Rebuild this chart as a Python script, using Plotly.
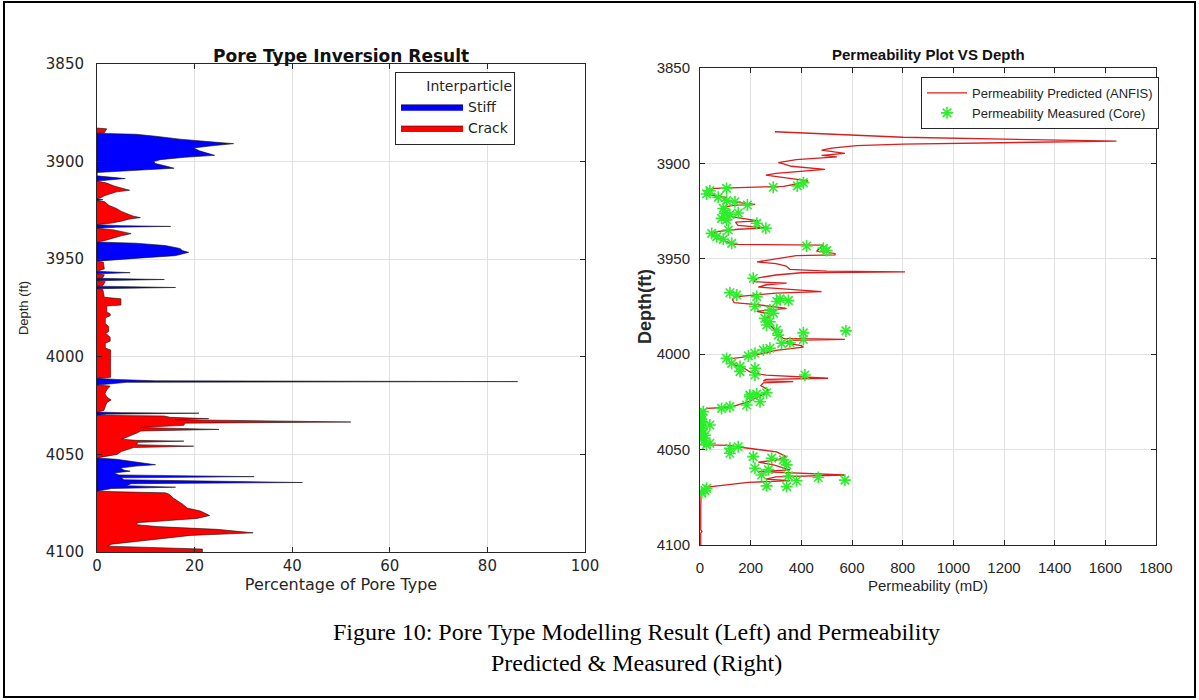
import plotly.graph_objects as go

W, H = 1199, 700

# ---------------- Left panel data (Pore type inversion) ----------------
stiff_depth = [3885.5, 3886.0, 3887.0, 3888.5, 3890.0, 3890.8, 3891.8, 3893.0, 3894.5, 3896.0,
               3896.8, 3897.8, 3899.0, 3900.0, 3901.0, 3902.5, 3903.4, 3904.2, 3905.0, 3905.6,
               3907.3, 3908.0, 3908.7, 3909.3, 3910.0, 3919.0, 3919.5, 3920.0,
               3932.3, 3932.8, 3933.2, 3933.6, 3934.2,
               3941.2, 3941.8, 3943.0, 3944.5, 3945.6, 3946.5, 3947.3, 3948.2, 3949.2, 3950.3, 3951.0,
               3956.2, 3956.9, 3957.5, 3959.8, 3960.4, 3961.0, 3963.8, 3964.5, 3965.1,
               4011.0, 4011.6, 4012.3, 4012.7, 4013.1, 4013.8, 4014.5,
               4028.3, 4028.6, 4028.9, 4029.4, 4030.0,
               4051.8, 4052.5, 4053.5, 4054.5, 4055.3, 4056.0, 4057.0, 4058.0, 4058.6, 4059.5,
               4060.5, 4061.4, 4062.0, 4063.0, 4064.4, 4065.0, 4066.0, 4066.8, 4067.5, 4068.9]
stiff_pct = [0, 8, 12, 17, 24, 28, 24, 19.8, 21, 23,
             24.1, 18, 13, 11.6, 12, 14.5, 15.8, 10, 4, 0,
             0, 3, 5.8, 3, 0, 0, 1.2, 0,
             0, 5, 15.1, 4, 0,
             0, 8, 14, 17, 17.5, 18.8, 17.5, 16, 10, 3, 0,
             0, 6.8, 0, 0, 13.8, 0, 0, 16.1, 0,
             0, 4, 12, 86.2, 6, 3, 0,
             0, 5, 20.9, 2, 0,
             0, 4, 7, 10.5, 12.0, 8, 4.8, 5.5, 6.8, 3.5,
             4.5, 32.2, 5, 5.5, 42.1, 7, 6, 16.1, 3, 0]

crack_depth = [3882.8, 3883.2, 3885.2, 3885.5,
               3910.0, 3911.0, 3912.5, 3913.5, 3914.7, 3915.5, 3916.5, 3917.5, 3918.5, 3919.0,
               3920.0, 3920.5, 3922.5, 3924.0, 3925.5, 3927.0, 3928.0, 3928.7, 3929.5, 3930.5, 3931.5, 3932.3,
               3934.2, 3935.0, 3936.0, 3936.9, 3938.0, 3939.5, 3940.5, 3941.2,
               3951.0, 3951.5, 3953.0, 3955.0, 3956.2, 3957.5, 3958.0, 3959.5, 3959.8,
               3961.0, 3961.5, 3963.5, 3963.8, 3965.1, 3965.5, 3968.0, 3969.5, 3970.3, 3973.5, 3974.0,
               3977.0, 3978.0, 3979.0, 3980.0, 3983.0, 3984.5, 3987.0, 3988.0, 3990.0, 3992.0, 3993.0,
               3995.5, 3996.5, 4010.5, 4011.0,
               4014.5, 4015.0, 4017.0, 4019.0, 4021.0, 4022.1, 4023.5, 4026.0, 4027.5, 4028.3,
               4030.0, 4030.3, 4031.0, 4031.7, 4032.2, 4033.4, 4034.0, 4035.1, 4036.2, 4037.2, 4038.0,
               4039.0, 4040.5, 4042.2, 4042.8, 4043.2, 4043.8, 4045.0, 4045.8, 4046.5, 4048.5, 4050.0, 4051.8,
               4068.9, 4069.7, 4070.3, 4072.5, 4075.4, 4077.5, 4079.0, 4081.3, 4082.8, 4084.0, 4085.0,
               4086.0, 4087.0, 4088.4, 4089.5, 4090.2, 4091.5, 4093.5, 4096.0, 4097.0, 4097.8, 4098.5, 4100.0]
crack_pct = [0, 2.0, 1.5, 0,
             0, 2, 3.5, 5, 6.7, 4, 2.5, 1.5, 0.8, 0,
             0, 1.5, 2.5, 4, 5, 6.5, 7.5, 8.9, 6.5, 5, 3, 0,
             0, 3.5, 5.5, 7.0, 5, 3, 1.5, 0,
             0, 1.3, 1.4, 1.5, 0, 0, 1.5, 1.2, 0,
             0, 1.7, 1.2, 0, 0, 1.2, 1.3, 1.5, 4.9, 4.9, 2.0,
             2.0, 2.7, 2.7, 1.7, 1.7, 2.4, 2.4, 1.8, 2.7, 2.7, 1.7,
             1.7, 2.8, 2.8, 0,
             0, 2.7, 2.0, 1.6, 2.2, 2.9, 2.0, 1.6, 1.4, 0,
             0, 13.7, 15.0, 22.9, 16, 52.0, 18, 17.8, 8.9, 25.0, 9,
             8.2, 6.8, 5.1, 8, 17.8, 8.5, 8, 19.8, 7.5, 5, 4.1, 0,
             0, 14.0, 14.7, 15.7, 17.5, 18.5, 21.2, 23.1, 20.5, 14, 8.2,
             8.2, 12.3, 24.6, 29.1, 32.0, 19.2, 12, 3, 2.2, 12, 21.6, 21.6]

# ---------------- Right panel data (Permeability) ----------------
pred_depth = [3883.4, 3884.2, 3886.3, 3888.3, 3889.9, 3890.7, 3892.0, 3893.0, 3894.7, 3895.8,
              3896.6, 3898.0, 3899.6, 3900.3, 3901.5, 3903.1, 3904.0, 3905.2, 3906.1, 3907.3,
              3907.8, 3908.5, 3909.2, 3909.8, 3910.8, 3912.0, 3912.5, 3913.1, 3914.0, 3915.7,
              3917.0, 3917.8, 3918.5, 3920.0, 3921.5, 3922.0, 3923.0, 3926.1, 3928.0, 3930.1,
              3930.8, 3932.5, 3933.8, 3934.5, 3935.8, 3937.0, 3939.0, 3940.5, 3942.4, 3942.8,
              3944.5, 3946.0, 3947.2, 3948.0, 3948.3, 3951.3, 3951.6, 3952.5, 3953.8, 3955.5,
              3956.5, 3956.9, 3957.3, 3958.5, 3960.0, 3962.0, 3962.8, 3963.6, 3964.8, 3967.2,
              3968.0, 3969.9, 3971.5, 3973.0, 3974.0, 3976.0, 3977.5, 3978.0, 3979.0, 3980.5,
              3982.0, 3984.0, 3986.5, 3989.0, 3991.7, 3992.2, 3992.8, 3994.0, 3995.5, 3996.3,
              3998.0, 3999.5, 4001.5, 4002.5, 4005.0, 4007.0, 4009.5, 4011.0, 4012.6, 4013.2,
              4014.0, 4014.4, 4015.0, 4016.5, 4018.8, 4021.0, 4023.0, 4024.9, 4026.5, 4027.8,
              4028.4, 4030.0, 4033.0, 4037.0, 4040.0, 4044.0, 4046.0, 4047.5, 4047.8, 4048.5,
              4051.2, 4053.8, 4055.5, 4056.6, 4058.0, 4060.6, 4061.5, 4063.3, 4064.3, 4065.5,
              4066.3, 4067.2, 4068.5, 4069.8, 4072.0, 4080.0, 4092.0, 4093.0, 4093.8, 4100.0]
pred_perm = [296, 420, 802, 1644, 802, 618, 520, 480, 572, 480,
             540, 380, 309, 330, 360, 493, 420, 300, 260, 330,
             355, 390, 427, 410, 380, 330, 200, 59, 30, 20,
             60, 105, 90, 120, 217, 130, 95, 92, 130, 230,
             140, 150, 270, 150, 66, 40, 70, 100, 131, 486,
             470, 460, 533, 533, 380, 240, 225, 300, 340, 355,
             500, 809, 400, 300, 230, 210, 342, 263, 230, 480,
             300, 138, 128, 135, 224, 342, 224, 237, 290, 270,
             250, 270, 290, 300, 329, 572, 360, 330, 400, 408,
             300, 250, 170, 112, 120, 170, 200, 260, 506, 260,
             250, 368, 250, 240, 270, 250, 220, 191, 150, 120,
             26, 10, 5, 15, 8, 10, 12, 20, 118, 145,
             302, 342, 300, 230, 290, 355, 230, 572, 300, 260,
             355, 190, 100, 20, 5, 3, 3, 8, 3, 3]

core_depth = [3910.1, 3911.8, 3912.5, 3913.1, 3914.3, 3916.0, 3917.8, 3919.5, 3920.1, 3921.8,
              3923.6, 3926.2, 3926.8, 3926.0, 3928.8, 3929.6, 3931.4, 3934.0, 3934.9, 3936.7,
              3938.4, 3939.8, 3941.9, 3943.3, 3944.5, 3945.7,
              3960.2, 3967.8, 3969.0, 3969.8, 3975.0, 3972.4, 3971.9, 3971.0, 3976.8, 3978.5,
              3981.2, 3983.0, 3984.7, 3987.3, 3990.0, 3994.3, 3994.0, 3988.8, 3992.3, 3987.8,
              3996.9, 3997.8, 3999.5, 4000.9, 4002.2, 4004.8, 4006.5, 4009.1, 4007.4, 4010.9,
              4010.9, 4022.3, 4020.9, 4020.2,
              4021.4, 4024.9, 4026.6, 4027.5, 4028.4, 4030.1, 4031.5, 4032.7, 4034.0, 4035.3,
              4036.0, 4037.1, 4038.8, 4040.0, 4041.4, 4042.5, 4044.0, 4045.5, 4046.7, 4047.5,
              4049.3, 4048.5, 4051.9, 4053.7, 4054.5, 4055.4, 4058.0, 4059.8, 4060.5, 4063.3,
              4063.8, 4066.3, 4064.6, 4066.0, 4069.4, 4069.0, 4070.3, 4072.8, 4071.5]
core_perm = [408, 384, 289, 105, 39, 26, 72, 105, 138, 187,
             92, 98, 118, 151, 85, 105, 224, 260, 112, 46,
             66, 92, 125, 421, 487, 500,
             210, 118, 145, 224, 217, 303, 349, 316, 276, 290,
             256, 276, 263, 303, 309, 322, 355, 408, 408, 576,
             276, 250, 217, 191, 105, 125, 158, 158, 217, 217,
             414, 197, 224, 263,
             197, 237, 184, 118, 85, 13, 5, 0, 3, 7,
             10, 39, 7, 5, 13, 20, 7, 15, 39, 25,
             118, 151, 118, 210, 283, 329, 342, 217, 270, 243,
             349, 381, 467, 572, 342, 263, 26, 7, 20]

x_ticks_left = [0, 20, 40, 60, 80, 100]
y_ticks = [3850, 3900, 3950, 4000, 4050, 4100]
x_ticks_right = [0, 200, 400, 600, 800, 1000, 1200, 1400, 1600, 1800]

LEFT_FONT = "DejaVu Sans"
RIGHT_FONT = "Liberation Sans"
AXC = "#262626"
GRID = "#e2e2e2"
STAR = "#2cee2c"

fig = go.Figure()

fig.add_trace(go.Scatter(x=stiff_pct, y=stiff_depth, mode="lines", fill="tozerox",
                         fillcolor="#0000ff", line=dict(color="#101010", width=0.6),
                         name="Stiff", xaxis="x", yaxis="y", legend="legend"))
fig.add_trace(go.Scatter(x=crack_pct, y=crack_depth, mode="lines", fill="tozerox",
                         fillcolor="#ff0000", line=dict(color="#101010", width=0.6),
                         name="Crack", xaxis="x", yaxis="y", legend="legend"))

fig.add_trace(go.Scatter(x=pred_perm, y=pred_depth, mode="lines",
                         line=dict(color="#d81e1e", width=1.3),
                         name="Permeability Predicted (ANFIS)", xaxis="x2", yaxis="y2",
                         legend="legend2"))
fig.add_trace(go.Scatter(x=core_perm, y=core_depth, mode="markers",
                         marker=dict(symbol="asterisk-open", size=10, color=STAR,
                                     line=dict(color=STAR, width=1.6)),
                         name="Permeability Measured (Core)", xaxis="x2", yaxis="y2",
                         legend="legend2"))

common_axis = dict(showline=True, linecolor=AXC, linewidth=1, mirror="ticks",
                   ticks="inside", ticklen=5, tickcolor=AXC, showgrid=True,
                   gridcolor=GRID, gridwidth=1, zeroline=False, automargin=False)

fig.update_layout(
    width=W, height=H, autosize=False,
    margin=dict(l=0, r=0, t=0, b=0, autoexpand=False),
    paper_bgcolor="white", plot_bgcolor="white",
    xaxis=dict(domain=[97 / W, 585 / W], range=[0, 100], tickvals=x_ticks_left,
               tickfont=dict(family=LEFT_FONT, size=15, color=AXC), ticklabelstandoff=0,
               title=dict(text="Percentage of Pore Type", standoff=0,
                          font=dict(family=LEFT_FONT, size=16, color=AXC)),
               anchor="y", **common_axis),
    yaxis=dict(domain=[1 - 552 / H, 1 - 64 / H], range=[4100, 3850], tickvals=y_ticks,
               tickfont=dict(family=LEFT_FONT, size=15, color=AXC), ticklabelstandoff=9,
               title=dict(text="Depth (ft)", standoff=14,
                          font=dict(family="Liberation Sans", size=13, color=AXC)),
               anchor="x", **common_axis),
    xaxis2=dict(domain=[700 / W, 1156 / W], range=[0, 1800], tickvals=x_ticks_right,
                tickfont=dict(family=RIGHT_FONT, size=15, color=AXC), ticklabelstandoff=9,
                title=dict(text="Permeability (mD)", standoff=5,
                           font=dict(family=RIGHT_FONT, size=15, color=AXC)),
                anchor="y2", **common_axis),
    yaxis2=dict(domain=[1 - 545 / H, 1 - 68 / H], range=[4100, 3850], tickvals=y_ticks,
                tickfont=dict(family=RIGHT_FONT, size=15, color=AXC), ticklabelstandoff=6,
                title=dict(text="<b>Depth(ft)</b>", standoff=0,
                           font=dict(family="Liberation Sans", size=18, color=AXC)),
                anchor="x2", **common_axis),
    legend=dict(x=395 / W, y=1 - 72 / H, xanchor="left", yanchor="top",
                bordercolor=AXC, borderwidth=1, bgcolor="white",
                title=dict(text="Interparticle", side="top right",
                           font=dict(family=LEFT_FONT, size=14, color=AXC)),
                font=dict(family=LEFT_FONT, size=14, color=AXC),
                tracegroupgap=0, itemwidth=62),
    legend2=dict(x=921 / W, y=1 - 77 / H, xanchor="left", yanchor="top",
                 bordercolor=AXC, borderwidth=1, bgcolor="white",
                 font=dict(family=RIGHT_FONT, size=13, color=AXC),
                 tracegroupgap=0, itemwidth=40),
    showlegend=True,
)

fig.add_annotation(text="<b>Pore Type Inversion Result</b>", xref="paper", yref="paper",
                   x=341 / W, y=1 - 56 / H, showarrow=False, xanchor="center", yanchor="middle",
                   font=dict(family=LEFT_FONT, size=17, color="#111111"))
fig.add_annotation(text="<b>Permeability Plot VS Depth</b>", xref="paper", yref="paper",
                   x=928 / W, y=1 - 55 / H, showarrow=False, xanchor="center", yanchor="middle",
                   font=dict(family=RIGHT_FONT, size=15, color="#111111"))
fig.add_annotation(text="Figure 10: Pore Type Modelling Result (Left) and Permeability<br>"
                        "Predicted &amp; Measured (Right)",
                   xref="paper", yref="paper", x=636 / W, y=1 - 647 / H, showarrow=False,
                   xanchor="center", yanchor="middle", align="center",
                   font=dict(family="Liberation Serif", size=24, color="black"))

fig.add_shape(type="rect", xref="paper", yref="paper",
              x0=4 / W, x1=1195 / W, y0=1 - 697 / H, y1=1 - 2 / H,
              line=dict(color="black", width=2), fillcolor="rgba(0,0,0,0)")

fig.write_html("out.html", config={"displayModeBar": False},
               post_script="document.body.style.margin='0';")
